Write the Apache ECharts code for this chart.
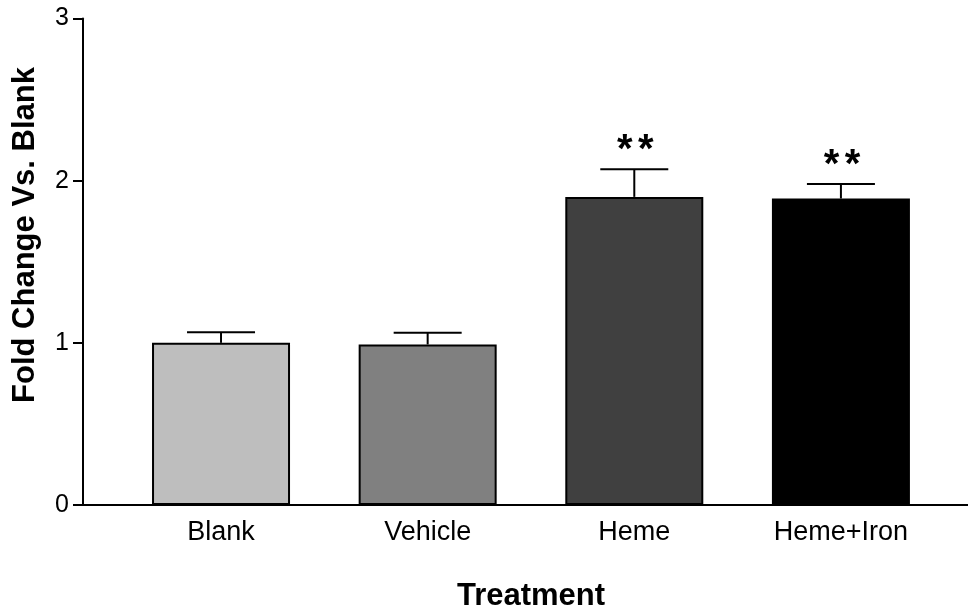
<!DOCTYPE html>
<html>
<head>
<meta charset="utf-8">
<script src="https://cdn.jsdelivr.net/npm/echarts@6/dist/echarts.min.js"></script>
<style>
  html, body { margin: 0; padding: 0; background: #fff; }
  #chart { width: 968px; height: 613px; }
</style>
</head>
<body>
<div id="chart"></div>
<script>
// Treatment groups and their fold-change results
const categories = ['Blank', 'Vehicle', 'Heme', 'Heme+Iron'];
const means = [1.00, 0.99, 1.90, 1.89];
const errors = [0.065, 0.072, 0.17, 0.09];
const significance = ['', '', '**', '**'];
const barColors = ['#bebebe', '#808080', '#404040', '#000000'];
const yTicks = [0, 1, 2, 3];

const FONT = '"Liberation Sans", Arial, Helvetica, sans-serif';

const chart = echarts.init(document.getElementById('chart'));

const barData = categories.map((c, i) => ({
  value: [i, means[i]],
  itemStyle: { color: barColors[i] }
}));

const errData = categories.map((c, i) => [i, means[i], means[i] + errors[i], i]);

chart.setOption({
  animation: false,
  backgroundColor: '#ffffff',
  grid: { left: 83, right: 0, top: 18.5, bottom: 108, containLabel: false },
  xAxis: {
    type: 'value',
    min: -0.668,
    max: 3.615,
    splitLine: { show: false },
    axisLine: { show: true, onZero: false, lineStyle: { color: '#000', width: 2 } },
    axisTick: { show: false },
    axisLabel: {
      customValues: [0, 1, 2, 3],
      formatter: v => categories[Math.round(v)] || '',
      color: '#000',
      fontFamily: FONT,
      fontSize: 27,
      margin: 14
    }
  },
  yAxis: {
    type: 'value',
    min: yTicks[0],
    max: yTicks[yTicks.length - 1],
    interval: 1,
    splitLine: { show: false },
    axisLine: { show: true, onZero: false, lineStyle: { color: '#000', width: 2 } },
    axisTick: { show: true, length: 10, lineStyle: { color: '#000', width: 2 } },
    axisLabel: { color: '#000', fontFamily: FONT, fontSize: 25, margin: 14 }
  },
  graphic: [
    {
      type: 'text',
      x: 25,
      y: 235,
      rotation: Math.PI / 2,
      style: {
        text: 'Fold Change Vs. Blank',
        fill: '#000',
        font: 'bold 31px ' + FONT,
        align: 'center',
        verticalAlign: 'middle'
      }
    },
    {
      type: 'text',
      x: 531,
      y: 596,
      style: {
        text: 'Treatment',
        fill: '#000',
        font: 'bold 31px ' + FONT,
        align: 'center',
        verticalAlign: 'middle'
      }
    }
  ],
  series: [
    {
      type: 'bar',
      data: barData,
      barWidth: 138,
      itemStyle: { borderColor: '#000', borderWidth: 2 },
      z: 2
    },
    {
      type: 'custom',
      data: errData,
      z: 3,
      renderItem: function (params, api) {
        const x = api.value(0);
        const base = api.coord([x, api.value(1)]);
        const top = api.coord([x, api.value(2)]);
        const half = 34;
        const idx = api.value(3);
        const children = [
          { type: 'line', shape: { x1: base[0], y1: base[1], x2: top[0], y2: top[1] },
            style: { stroke: '#000', lineWidth: 2 } },
          { type: 'line', shape: { x1: top[0] - half, y1: top[1], x2: top[0] + half, y2: top[1] },
            style: { stroke: '#000', lineWidth: 2 } }
        ];
        // significance stars, one glyph each, spaced apart above the cap
        const mark = significance[idx];
        const n = mark.length;
        for (let k = 0; k < n; k++) {
          children.push({
            type: 'text',
            x: top[0] + 1 + (k - (n - 1) / 2) * 21,
            y: top[1] + 2,
            style: {
              text: mark[k],
              fill: '#000',
              font: 'bold 40px ' + FONT,
              align: 'center',
              verticalAlign: 'bottom'
            }
          });
        }
        return { type: 'group', children: children };
      }
    }
  ]
});
</script>
</body>
</html>
